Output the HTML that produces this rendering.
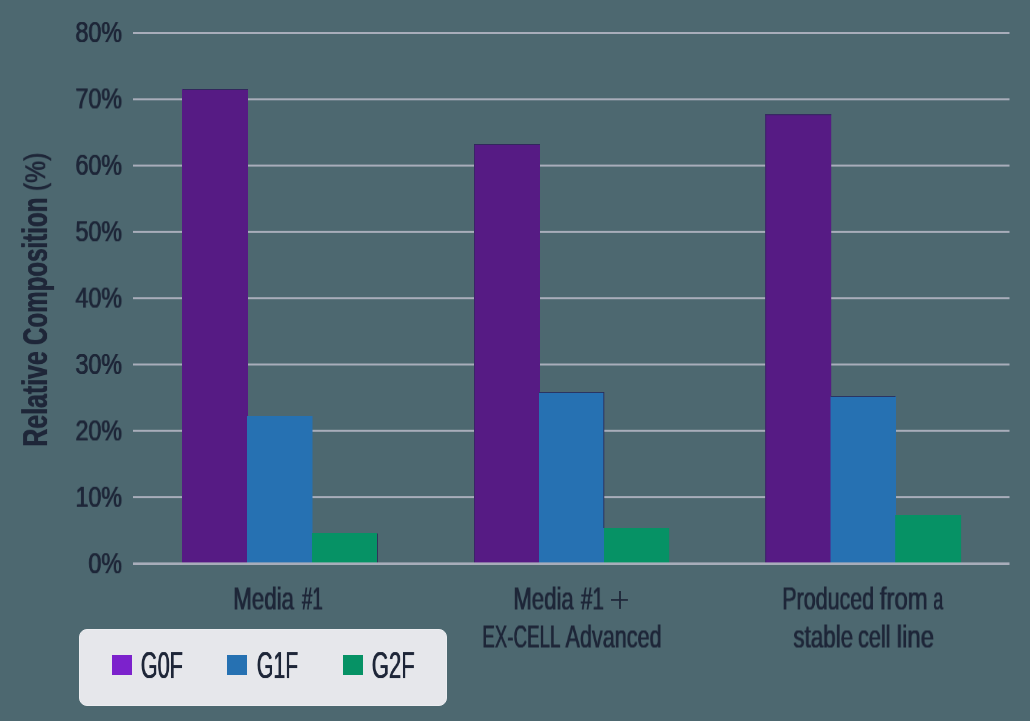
<!DOCTYPE html>
<html><head><meta charset="utf-8">
<style>
html,body{margin:0;padding:0;}
body{width:1030px;height:721px;overflow:hidden;background:#4d6870;position:relative;font-family:"Liberation Sans",sans-serif;color:#1e2638;}
svg{position:absolute;left:0;top:0;}
.t{position:absolute;white-space:nowrap;line-height:1;transform-origin:0 0;will-change:transform;text-shadow:0.45px 0 0 #1e2638,-0.45px 0 0 #1e2638;}
#legend{position:absolute;left:79px;top:629px;width:366px;height:75px;background:#e6e7eb;border:1px solid #ecedf0;border-radius:8px;}
.sw{position:absolute;width:20px;height:20px;top:655px;}
</style></head>
<body>
<svg width="1030" height="721" viewBox="0 0 1030 721">
 <g fill="#a8adba">
  <rect x="133" y="32" width="876.5" height="2"/>
  <rect x="133" y="98.3" width="876.5" height="2"/>
  <rect x="133" y="164.6" width="876.5" height="2"/>
  <rect x="133" y="230.9" width="876.5" height="2"/>
  <rect x="133" y="297.2" width="876.5" height="2"/>
  <rect x="133" y="363.5" width="876.5" height="2"/>
  <rect x="133" y="429.8" width="876.5" height="2"/>
  <rect x="133" y="496.1" width="876.5" height="2"/>
 </g>
 <g>
  <rect x="182" y="89" width="66" height="474.4" fill="#561b84"/>
  <rect x="247" y="416" width="65.5" height="147.4" fill="#2671b2"/>
  <rect x="312" y="533" width="65" height="30.4" fill="#069265"/>
  <rect x="474" y="144" width="66" height="419.4" fill="#561b84"/>
  <rect x="539" y="392" width="65" height="171.4" fill="#2671b2"/>
  <rect x="604" y="528" width="65.2" height="35.4" fill="#069265"/>
  <rect x="765.2" y="114.2" width="66" height="449.2" fill="#561b84"/>
  <rect x="830.5" y="396" width="65.5" height="167.4" fill="#2671b2"/>
  <rect x="895.2" y="515" width="65.9" height="48.4" fill="#069265"/>
 </g>
 <g fill="#2b2a55" fill-opacity="0.85">
  <rect x="183" y="89" width="65" height="1"/>
  <rect x="474" y="144" width="66" height="1"/>
  <rect x="474" y="144" width="1" height="419.4" fill-opacity="0.6"/>
  <rect x="765.2" y="114.2" width="66" height="1"/>
  <rect x="765.2" y="114.2" width="1" height="449.2" fill-opacity="0.6"/>
  <rect x="539" y="392" width="65" height="1"/>
  <rect x="830.5" y="396" width="65" height="1"/>
  <rect x="377" y="533.5" width="1" height="29.9"/>
  <rect x="603.3" y="392" width="1" height="136"/>
 </g>
 <rect x="133" y="562.4" width="876.5" height="2.6" fill="#a8adba"/>
 <g fill="#1e2638"><rect x="611" y="599.1" width="16.9" height="1.7"/><rect x="619.1" y="591" width="1.8" height="17.9"/></g>
</svg>
<div id="legend"></div>
<div class="sw" style="left:112px;background:#7c22cc;"></div>
<div class="sw" style="left:227px;background:#2671b2;"></div>
<div class="sw" style="left:343px;background:#069265;"></div>
<div class="t" id="y80" style="font-size:30.37px;transform:translate(75.46px,17.04px) scaleX(0.7661);">80%</div>
<div class="t" id="y70" style="font-size:30.37px;transform:translate(75.46px,83.43px) scaleX(0.7661);">70%</div>
<div class="t" id="y60" style="font-size:30.37px;transform:translate(75.46px,149.82px) scaleX(0.7661);">60%</div>
<div class="t" id="y50" style="font-size:30.37px;transform:translate(75.46px,216.21px) scaleX(0.7661);">50%</div>
<div class="t" id="y40" style="font-size:30.37px;transform:translate(75.46px,282.60px) scaleX(0.7661);">40%</div>
<div class="t" id="y30" style="font-size:30.37px;transform:translate(75.46px,348.99px) scaleX(0.7661);">30%</div>
<div class="t" id="y20" style="font-size:30.37px;transform:translate(75.46px,415.38px) scaleX(0.7661);">20%</div>
<div class="t" id="y10" style="font-size:30.37px;transform:translate(75.46px,481.77px) scaleX(0.7661);">10%</div>
<div class="t" id="y0" style="font-size:30.37px;transform:translate(88.40px,548.16px) scaleX(0.7661);">0%</div>
<div class="t" id="x1a" style="font-size:30.96px;transform:translate(233.17px,584.49px) scaleX(0.7213);">Media</div>
<div class="t" id="x1b" style="font-size:30.96px;transform:translate(301.93px,584.49px) scaleX(0.6039);">#1</div>
<div class="t" id="x2a" style="font-size:30.96px;transform:translate(513.28px,584.49px) scaleX(0.7164);">Media</div>
<div class="t" id="x2b" style="font-size:30.96px;transform:translate(580.92px,584.49px) scaleX(0.6649);">#1</div>
<div class="t" id="x2d" style="font-size:30.96px;transform:translate(482.26px,622.49px) scaleX(0.6057);">EX-CELL</div>
<div class="t" id="x2e" style="font-size:30.96px;transform:translate(565.46px,622.49px) scaleX(0.6980);">Advanced</div>
<div class="t" id="x3a" style="font-size:30.96px;transform:translate(782.24px,584.49px) scaleX(0.6936);">Produced</div>
<div class="t" id="x3b" style="font-size:30.96px;transform:translate(879.76px,584.49px) scaleX(0.7755);">from</div>
<div class="t" id="x3c" style="font-size:30.96px;transform:translate(933.26px,584.49px) scaleX(0.5718);">a</div>
<div class="t" id="x3d" style="font-size:30.96px;transform:translate(793.37px,622.49px) scaleX(0.7229);">stable</div>
<div class="t" id="x3e" style="font-size:30.96px;transform:translate(857.99px,622.49px) scaleX(0.6989);">cell</div>
<div class="t" id="x3f" style="font-size:30.96px;transform:translate(896.69px,622.49px) scaleX(0.7751);">line</div>
<div class="t" id="l0" style="font-size:36.30px;transform:translate(140.82px,648.02px) scaleX(0.5955);">G0F</div>
<div class="t" id="l1" style="font-size:36.30px;transform:translate(256.84px,648.02px) scaleX(0.5866);">G1F</div>
<div class="t" id="l2" style="font-size:36.30px;transform:translate(371.80px,648.02px) scaleX(0.6074);">G2F</div>
<div class="t tt" id="tA" style="font-weight:bold;font-size:35.20px;transform:translate(17.10px,446.67px) rotate(-90deg) scaleX(0.7076);">Relative</div>
<div class="t tt" id="tB" style="font-weight:bold;font-size:35.20px;transform:translate(17.10px,344.99px) rotate(-90deg) scaleX(0.6856);">Composition</div>
<div class="t tt" id="tC" style="font-size:30.20px;transform:translate(20.24px,191.03px) rotate(-90deg) scaleX(0.8168);">(%)</div>
</body></html>
